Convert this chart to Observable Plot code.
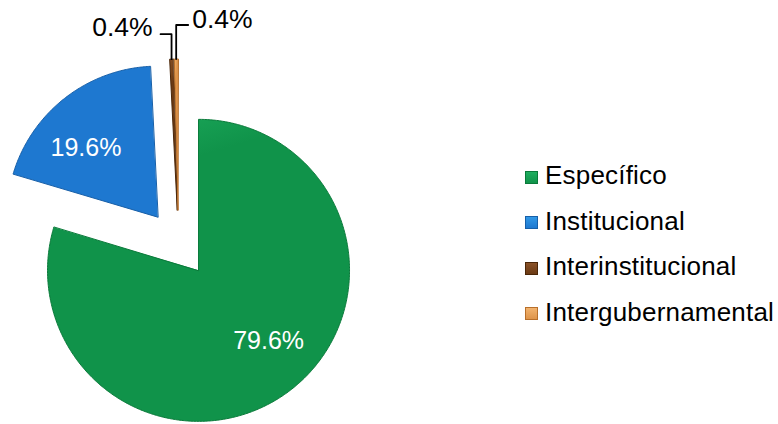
<!DOCTYPE html>
<html>
<head>
<meta charset="utf-8">
<script src="https://cdn.jsdelivr.net/npm/d3@7"></script>
<script src="https://cdn.jsdelivr.net/npm/@observablehq/plot@0.6"></script>
<style>
html, body { margin: 0; padding: 0; background: #fff; }
#wrap { position: relative; width: 778px; height: 424px; font-family: "Liberation Sans", Arial, sans-serif; overflow: hidden; }
#wrap svg { position: absolute; left: 0; top: 0; }
.item { position: absolute; left: 525px; white-space: nowrap; font-size: 26px; line-height: 26px; color: #000; display: flex; align-items: center; letter-spacing: 0.2px; }
.sw { width: 13px; height: 13px; margin-right: 7px; margin-top: 4px; box-sizing: border-box; }
</style>
</head>
<body>
<div id="wrap"></div>
<script>
// ---- data ----
const categories = ["Específico", "Institucional", "Interinstitucional", "Intergubernamental"];
const values = [79.6, 19.6, 0.4, 0.4];
const labels = ["79.6%", "19.6%", "0.4%", "0.4%"];
const colors = ["#10934a", "#1e78d0", "#6b3a14", "#de944a"];
const lightColors = ["#1fae5f", "#3198e6", "#8a5228", "#f2b36e"];
const darkColors = ["#0a7a3a", "#175fa8", "#4a2608", "#b86f2a"];

// ---- layout ----
const W = 778, H = 424;
const cx = 178, cy = 243, R = 151, explode = 33.5; // pixels
const ex = explode / R;

const pie = d3.pie().sort(null).value(d => d.value)(
  categories.map((name, i) => ({name, value: values[i], i}))
);

const slices = pie.map(p => {
  const mid = (p.startAngle + p.endAngle) / 2;
  const ox = ex * Math.sin(mid), oy = ex * Math.cos(mid);
  const pts = [{name: p.data.name, x: ox, y: oy}];
  const n = Math.max(2, Math.ceil((p.endAngle - p.startAngle) / 0.01));
  for (let k = 0; k <= n; k++) {
    const a = p.startAngle + (p.endAngle - p.startAngle) * k / n;
    pts.push({name: p.data.name, x: ox + Math.sin(a), y: oy + Math.cos(a)});
  }
  return {i: p.data.i, name: p.data.name, mid, ox, oy, pts};
});

// inner labels for large slices
const inner = slices.filter(s => values[s.i] > 5).map(s => {
  const a = s.mid - 8 * Math.PI / 180;
  const f = 0.66;
  return {x: s.ox + f * Math.sin(a), y: s.oy + f * Math.cos(a), text: labels[s.i]};
});

// leader labels for tiny slices
const leaderCfg = {2: {rise: 25, run: -11, gap: -8, dy: -7}, 3: {rise: 34, run: 12, gap: 4, dy: -5}};
const leaders = [];
const outer = [];
slices.filter(s => values[s.i] <= 5).forEach(s => {
  const c = leaderCfg[s.i];
  const px = s.ox + Math.sin(s.mid), py = s.oy + Math.cos(s.mid);
  const ey = py + c.rise / R;
  const ex2 = px + c.run / R;
  leaders.push({name: s.name, x: px, y: py}, {name: s.name, x: px, y: ey}, {name: s.name, x: ex2, y: ey});
  outer.push({x: ex2 + c.gap / R, y: ey - c.dy / R, text: labels[s.i], anchor: c.run < 0 ? "end" : "start"});
});

const marks = [];
slices.forEach(s => {
  marks.push(Plot.line(s.pts, {x: "x", y: "y", fill: `url(#grad${s.i})`, stroke: darkColors[s.i], strokeWidth: 1, curve: "linear-closed"}));
});
marks.push(Plot.text(inner, {x: "x", y: "y", text: "text", fill: "white", fontSize: 25}));
marks.push(Plot.line(leaders, {x: "x", y: "y", z: "name", stroke: "black", strokeWidth: 1.8}));
marks.push(Plot.text(outer.filter(d => d.anchor === "end"), {x: "x", y: "y", text: "text", fill: "black", fontSize: 26.5, textAnchor: "end"}));
marks.push(Plot.text(outer.filter(d => d.anchor === "start"), {x: "x", y: "y", text: "text", fill: "black", fontSize: 26.5, textAnchor: "start"}));

const chart = Plot.plot({
  width: W, height: H,
  marginTop: 0, marginRight: 0, marginBottom: 0, marginLeft: 0,
  x: {domain: [-cx / R, (W - cx) / R], range: [0, W], axis: null},
  y: {domain: [(cy - H) / R, cy / R], range: [H, 0], axis: null},
  style: {fontFamily: "Liberation Sans, Arial, sans-serif", background: "transparent", overflow: "visible"},
  marks
});

// gradients for the slight 3D look
const svg = d3.select(chart.tagName === "svg" ? chart : chart.querySelector("svg"));
const defs = svg.insert("defs", ":first-child");
categories.forEach((c, i) => {
  const g = defs.append("linearGradient").attr("id", `grad${i}`).attr("x1", 0).attr("y1", 0).attr("x2", 0.3).attr("y2", 1);
  g.append("stop").attr("offset", "0%").attr("stop-color", lightColors[i]);
  g.append("stop").attr("offset", "25%").attr("stop-color", colors[i]);
  g.append("stop").attr("offset", "100%").attr("stop-color", colors[i]);
});

const wrap = document.getElementById("wrap");
wrap.appendChild(chart);

// legend
const legendTop = 162, legendStep = 45.5;
categories.forEach((c, i) => {
  const item = document.createElement("div");
  item.className = "item";
  item.style.top = (legendTop + i * legendStep) + "px";
  const sw = document.createElement("span");
  sw.className = "sw";
  sw.style.background = `linear-gradient(180deg, ${lightColors[i]}, ${colors[i]})`;
  sw.style.border = `1px solid ${darkColors[i]}`;
  const t = document.createElement("span");
  t.textContent = c;
  item.appendChild(sw);
  item.appendChild(t);
  wrap.appendChild(item);
});
</script>
</body>
</html>
